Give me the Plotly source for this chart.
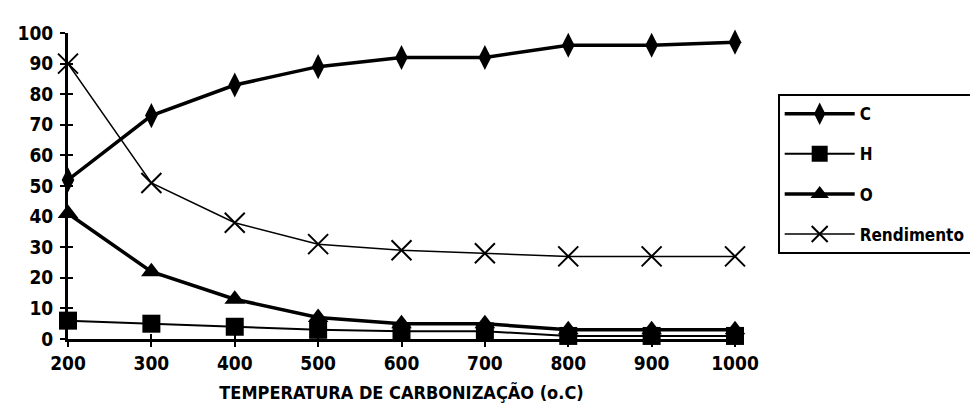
import plotly.graph_objects as go

temperatura = [200, 300, 400, 500, 600, 700, 800, 900, 1000]
carbono = [52, 73, 83, 89, 92, 92, 96, 96, 97]
hidrogenio = [6, 5, 4, 3, 2.5, 2.5, 1, 1, 1]
oxigenio = [41, 22, 13, 7, 5, 5, 3, 3, 3]
rendimento = [90, 51, 38, 31, 29, 28, 27, 27, 27]
y_ticks = [0, 10, 20, 30, 40, 50, 60, 70, 80, 90, 100]
x_ticks = [200, 300, 400, 500, 600, 700, 800, 900, 1000]

FONT = "DejaVu Sans Condensed, Liberation Sans Narrow, DejaVu Sans, sans-serif"


def bold(size):
    return dict(family=FONT, size=size, color="black", weight="bold")


fig = go.Figure()
series = [
    ("C", carbono, "diamond-tall", 18, 3.5),
    ("H", hidrogenio, "square", 18, 2),
    ("O", oxigenio, "triangle-up", 18, 3.5),
]
for name, vals, sym, size, lw in series:
    fig.add_trace(go.Scatter(
        x=temperatura, y=vals, name=name, mode="lines+markers",
        line=dict(color="black", width=lw),
        marker=dict(symbol=sym, size=size, color="black"),
        cliponaxis=False, legendgroup=name,
    ))
fig.add_trace(go.Scatter(
    x=temperatura, y=rendimento, name="Rendimento", mode="lines+markers",
    line=dict(color="black", width=1.5),
    marker=dict(symbol="x-thin-open", size=20, color="black",
                line=dict(color="black", width=2)),
    cliponaxis=False, legendgroup="Rendimento",
))

fig.update_layout(
    width=978, height=405,
    margin=dict(l=60, r=251, t=25, b=74, autoexpand=False),
    paper_bgcolor="white", plot_bgcolor="white",
    font=dict(family=FONT, color="black"),
    showlegend=True,
    legend=dict(
        x=1.064, y=0.80, xanchor="left", yanchor="top",
        bordercolor="black", borderwidth=2, bgcolor="white",
        font=bold(17),
        itemwidth=70, tracegroupgap=15, traceorder="grouped",
    ),
    xaxis=dict(
        range=[200, 1000], tickvals=x_ticks, ticktext=[str(v) for v in x_ticks],
        showgrid=False, zeroline=False, showline=True, linecolor="black",
        linewidth=2.5, ticks="outside", ticklen=5, tickwidth=2, tickcolor="black",
        tickfont=bold(19),
        title=dict(text="TEMPERATURA DE CARBONIZAÇÃO (o.C)", font=bold(18),
                   standoff=14),
    ),
    yaxis=dict(
        range=[0, 100], tickvals=y_ticks, ticktext=[str(v) for v in y_ticks],
        showgrid=False, zeroline=False, showline=True, linecolor="black",
        linewidth=3, ticks="outside", ticklen=5, tickwidth=2, tickcolor="black",
        tickfont=bold(19), ticklabelstandoff=3,
    ),
    xaxis2=dict(overlaying="x", range=[200, 1000], tickvals=x_ticks,
                showticklabels=False, showgrid=False, zeroline=False,
                ticks="inside", ticklen=5, tickwidth=2, tickcolor="black",
                side="bottom"),
    yaxis2=dict(overlaying="y", range=[0, 100], tickvals=y_ticks,
                showticklabels=False, showgrid=False, zeroline=False,
                ticks="inside", ticklen=5, tickwidth=2, tickcolor="black",
                side="left"),
)
fig.add_trace(go.Scatter(x=[None], y=[None], xaxis="x2", yaxis="y2",
                         showlegend=False, hoverinfo="skip"))

fig.write_html("out.html")
